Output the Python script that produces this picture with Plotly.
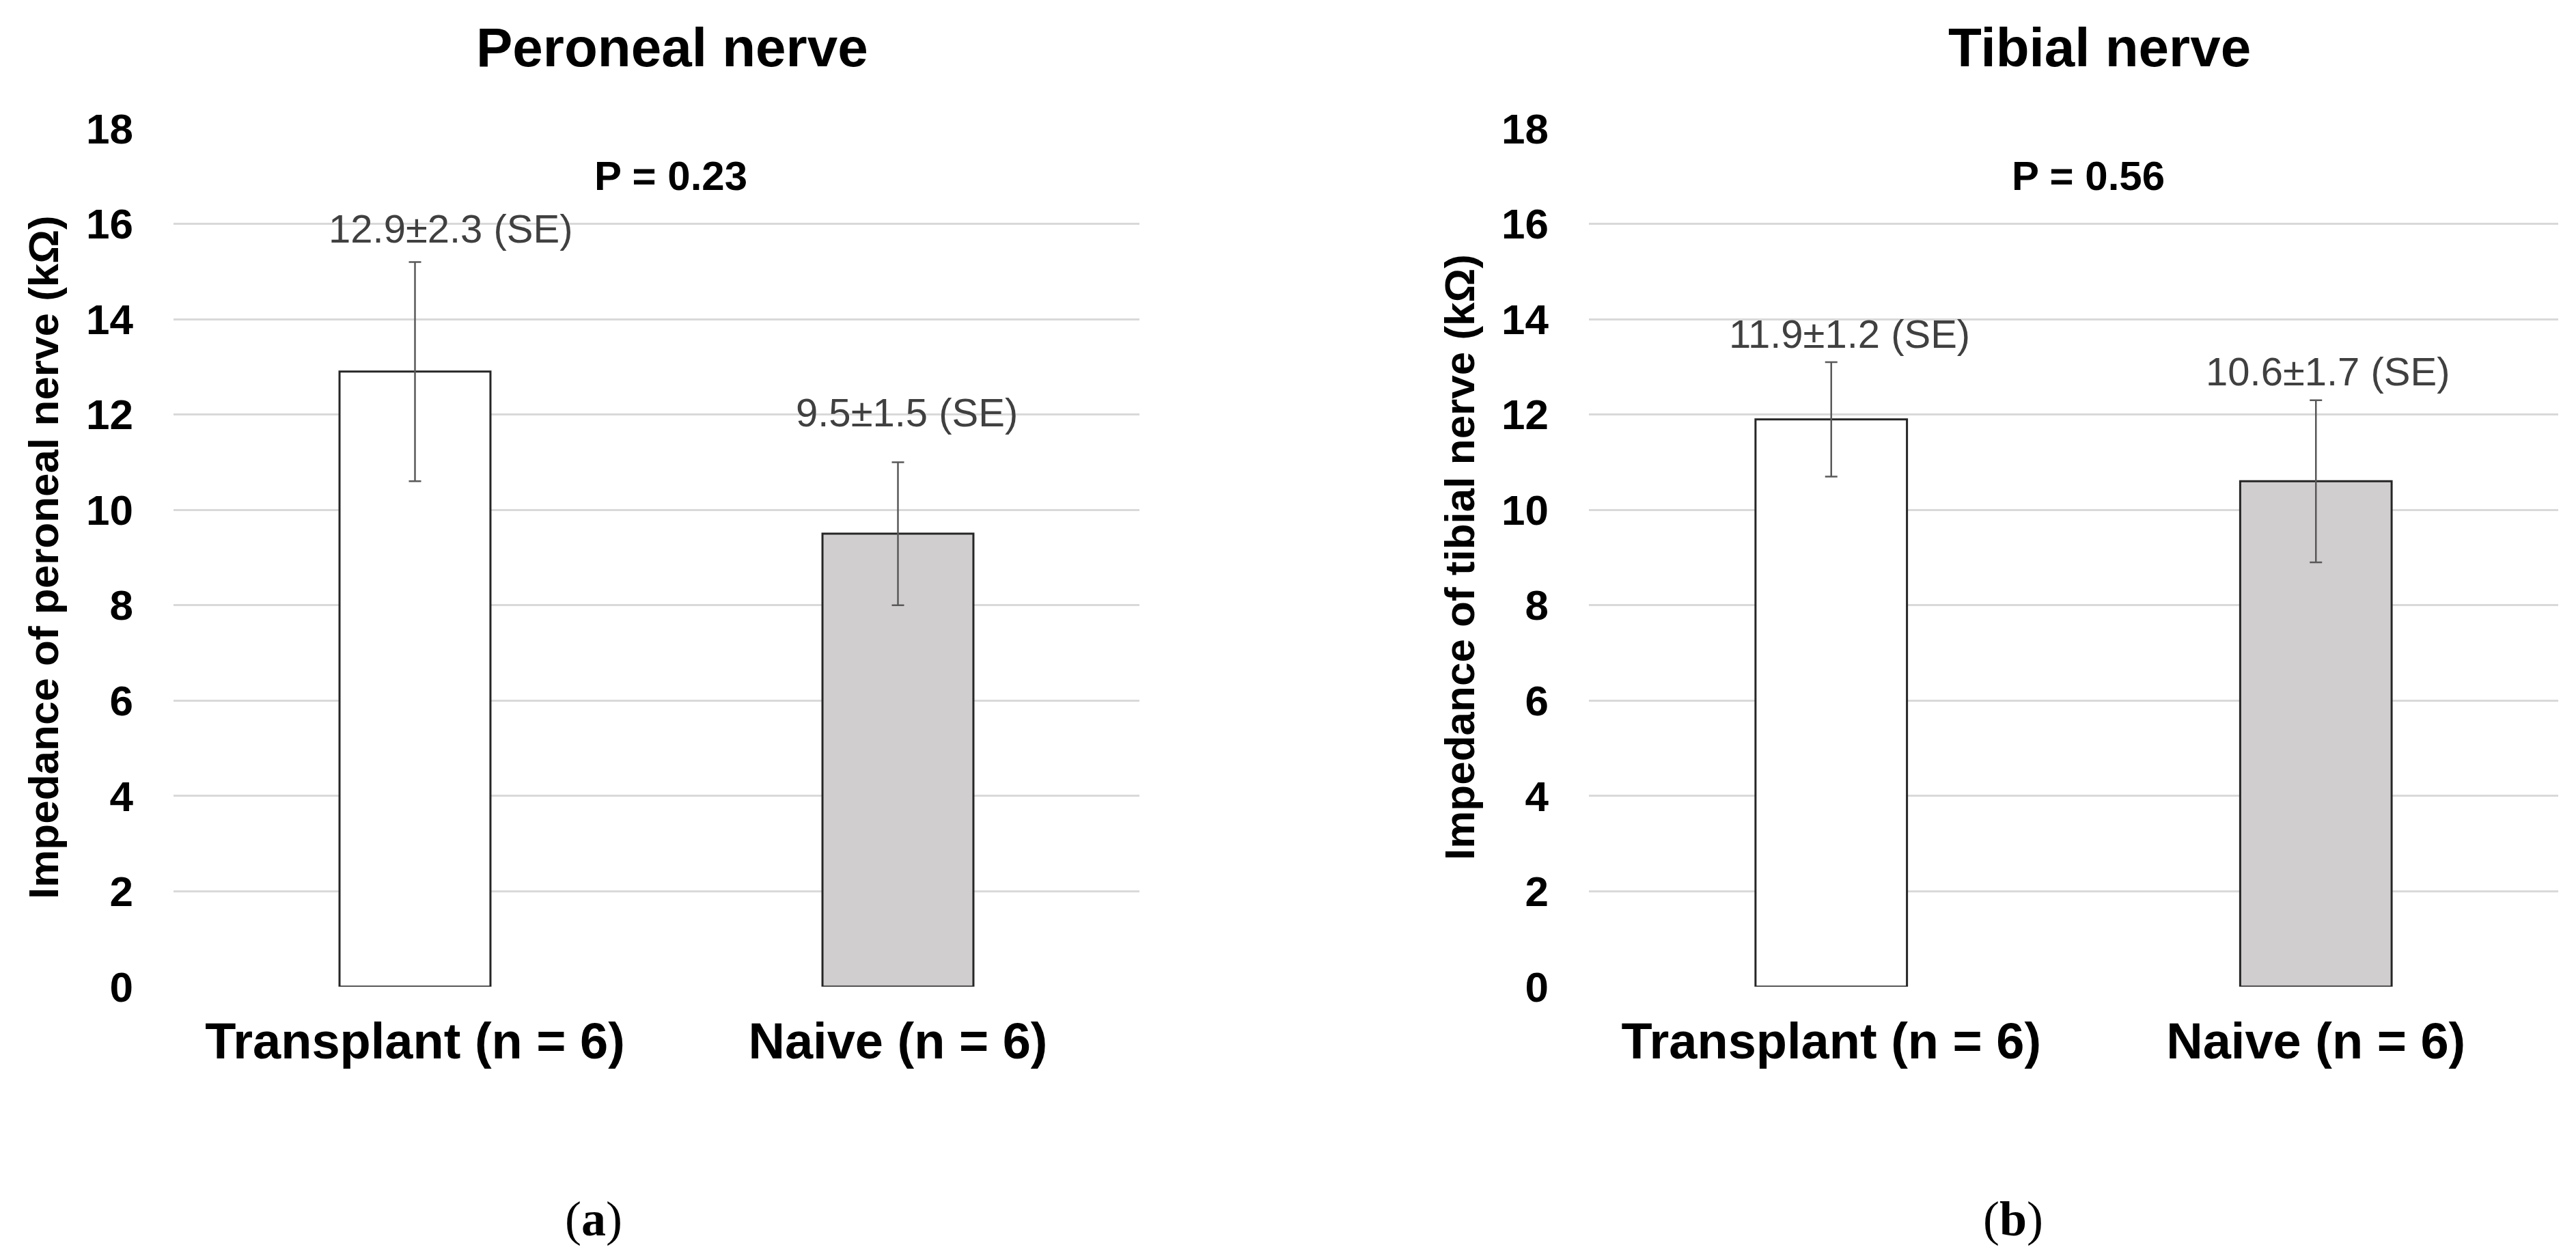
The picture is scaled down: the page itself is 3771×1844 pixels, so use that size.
import plotly.graph_objects as go

# ---- data ----
categories = ["Transplant (n = 6)", "Naive (n = 6)"]
peroneal_mean = [12.9, 9.5]
peroneal_se = [2.3, 1.5]
tibial_mean = [11.9, 10.6]
tibial_se = [1.2, 1.7]
bar_colors = ["#FFFFFF", "#D0CECE"]
panel_titles = ["Peroneal nerve", "Tibial nerve"]
y_titles = ["Impedance of peroneal nerve (kΩ)", "Impedance of tibial nerve (kΩ)"]
p_values = ["P = 0.23", "P = 0.56"]
panel_labels = ["a", "b"]
y_ticks = [0, 2, 4, 6, 8, 10, 12, 14, 16, 18]

W, H = 3771, 1844
FONT = "Liberation Sans, Arial, sans-serif"

# layout geometry (pixels -> paper fractions)
x_domains = [[246 / W, 1660 / W], [2318 / W, 3737 / W]]
y_domain = [1 - 1436 / H, 1 - 180 / H]
title_x = [976 / W, 3065 / W]
ytitle_x = [55 / W, 2128 / W]
panel_x = [861 / W, 2939 / W]
# label placement (category-axis units / data units)
label_dx = [[0.074, 0.019], [0.037, 0.025]]
label_y = [[15.9, 12.05], [13.7, 12.9]]

means = [peroneal_mean, tibial_mean]
ses = [peroneal_se, tibial_se]

fig = go.Figure()
annotations = []
for i in range(2):
    xa = "x" if i == 0 else "x2"
    ya = "y" if i == 0 else "y2"
    fig.add_trace(go.Bar(
        x=categories, y=means[i],
        width=0.3125,
        marker=dict(color=bar_colors, line=dict(color="#262626", width=3)),
        error_y=dict(type="data", array=ses[i], visible=True,
                     color="#595959", thickness=2.5, width=9),
        xaxis=xa, yaxis=ya, hoverinfo="skip",
    ))
    annotations.append(dict(
        text=panel_titles[i], xref="paper", yref="paper",
        x=title_x[i], y=1 - 62 / H, xanchor="center", yanchor="middle",
        showarrow=False, font=dict(family=FONT, size=80, color="#000000", weight="bold")))
    annotations.append(dict(
        text=y_titles[i], xref="paper", yref="paper", textangle=-90,
        x=ytitle_x[i], y=(y_domain[0] + y_domain[1]) / 2,
        xanchor="center", yanchor="middle", showarrow=False,
        font=dict(family=FONT, size=62, color="#000000", weight="bold")))
    annotations.append(dict(
        text=p_values[i], xref=xa, yref=ya, x=0.53, y=17.0,
        xanchor="center", yanchor="middle", showarrow=False,
        font=dict(family=FONT, size=60, color="#000000", weight="bold")))
    for j in range(2):
        annotations.append(dict(
            text=f"{means[i][j]}±{ses[i][j]} (SE)", xref=xa, yref=ya,
            x=j + label_dx[i][j], y=label_y[i][j],
            xanchor="center", yanchor="middle", showarrow=False,
            font=dict(family=FONT, size=58, color="#404040")))
    annotations.append(dict(
        text=f"(<b>{panel_labels[i]}</b>)", xref="paper", yref="paper",
        x=panel_x[i], y=1 - 1776 / H, xanchor="center", yanchor="middle",
        showarrow=False, font=dict(family="Liberation Serif, Times New Roman, serif",
                                   size=72, color="#000000")))

xaxis_common = dict(
    type="category", range=[-0.5, 1.5], showgrid=False, showline=False,
    zeroline=False, ticks="", ticklabelstandoff=30, automargin=False,
    tickfont=dict(family=FONT, size=74, color="#000000", weight="bold"))
yaxis_common = dict(
    range=[0, 18], tickvals=y_ticks, showgrid=True, gridcolor="#D9D9D9",
    gridwidth=3, zeroline=False, showline=False, ticks="", automargin=False,
    ticklabelstandoff=58, domain=y_domain,
    tickfont=dict(family=FONT, size=62, color="#000000", weight="bold"))

fig.update_layout(
    width=W, height=H, autosize=False,
    margin=dict(l=0, r=0, t=0, b=0, pad=0, autoexpand=False),
    paper_bgcolor="white", plot_bgcolor="white",
    showlegend=False, bargap=0.6,
    xaxis=dict(domain=x_domains[0], anchor="y", **xaxis_common),
    xaxis2=dict(domain=x_domains[1], anchor="y2", **xaxis_common),
    yaxis=dict(anchor="x", **yaxis_common),
    yaxis2=dict(anchor="x2", **yaxis_common),
    annotations=annotations,
)

fig.write_html("out.html")
